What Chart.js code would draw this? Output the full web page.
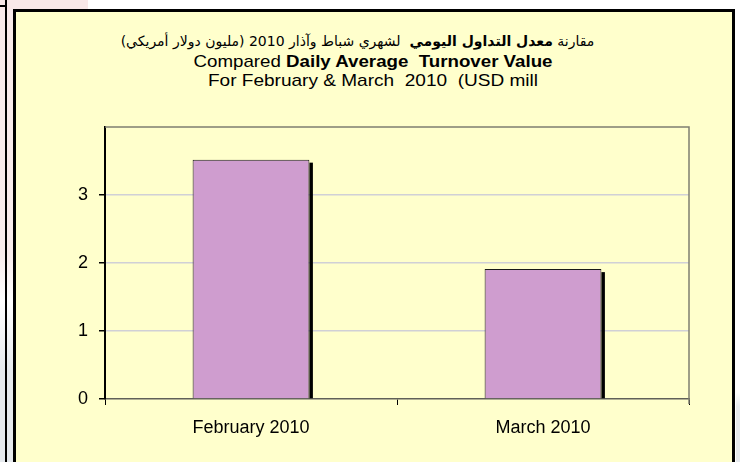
<!DOCTYPE html>
<html>
<head>
<meta charset="utf-8">
<script src="https://cdn.jsdelivr.net/npm/chart.js@4/dist/chart.umd.min.js"></script>
<style>
  html, body { margin: 0; padding: 0; }
  body { width: 740px; height: 462px; position: relative; overflow: hidden; background: #ffffff;
         font-family: "Liberation Sans", Arial, "DejaVu Sans", sans-serif; }
  #leftbg { position: absolute; left: 0; top: 0; width: 13px; height: 462px;
            background: linear-gradient(#f8eaea 0%, #f8ecec 55%, #ffffff 65%, #e6eaee 80%, #e6eaee 100%); }
  #rightbg { position: absolute; left: 736px; top: 0; width: 4px; height: 462px;
            background: linear-gradient(#ffffff 0%, #ffffff 85%, #e6eaee 88%, #e6eaee 100%); }
  #topbg { position: absolute; left: 0; top: 0; width: 88px; height: 9px; background: #f8e8e8; }
  #vline { position: absolute; left: 5px; top: 0; width: 2px; height: 462px; background: #000; }
  #hline { position: absolute; left: 0; top: 5px; width: 7px; height: 2px; background: #000; }
  #box { position: absolute; left: 13px; top: 9px; width: 716px; height: 460px;
         border: 3px solid #000; border-bottom: none; background: #ffffcc; }
  .t { position: absolute; text-align: center; color: #000; white-space: pre; line-height: 19px; }
  #t1 { left: 0; width: 715px; top: 32px; font-family: "DejaVu Sans", "Liberation Sans", sans-serif; font-size: 14px; }
  #t2 { left: 0; width: 746px; top: 52px; font-size: 17px; transform: scaleX(1.1); transform-origin: 50% 50%; }
  #t3 { left: 0; width: 746px; top: 71px; font-size: 17px; transform: scaleX(1.12); transform-origin: 50% 50%; }
  canvas { position: absolute; left: 0; top: 0; }
</style>
</head>
<body>
<div id="leftbg"></div>
<div id="rightbg"></div>
<div id="topbg"></div>
<div id="vline"></div>
<div id="hline"></div>
<div id="box"></div>
<div class="t" id="t1" dir="rtl">مقارنة <b>معدل التداول اليومي</b>  لشهري شباط وآذار 2010 (مليون دولار أمريكي)</div>
<div class="t" id="t2">Compared <b>Daily Average  Turnover Value</b></div>
<div class="t" id="t3">For February &amp; March  2010  (USD mill</div>
<canvas id="c" width="740" height="462"></canvas>
<script>
const categories = ["February 2010", "March 2010"];
const turnoverValues = [3.52, 1.91];
const yTicks = [0, 1, 2, 3, 4];

const plotFrame = {
  id: 'plotFrame',
  beforeDatasetsDraw(chart) {
    const a = chart.chartArea, ctx = chart.ctx;
    ctx.save();
    ctx.strokeStyle = '#7f7f70';
    ctx.lineWidth = 1.5;
    ctx.beginPath();
    ctx.moveTo(a.left, a.top);
    ctx.lineTo(a.right, a.top);
    ctx.lineTo(a.right, a.bottom + 5);
    ctx.stroke();
    // bar shadows (right side), placed from the library's computed bar geometry
    ctx.beginPath();
    ctx.rect(a.left, a.top, a.right - a.left, a.bottom - a.top);
    ctx.clip();
    ctx.fillStyle = '#000000';
    const meta = chart.getDatasetMeta(0);
    meta.data.forEach(el => {
      const p = el.getProps(['x', 'y', 'base', 'width'], true);
      const right = p.x + p.width / 2;
      ctx.fillRect(right, p.y + 3, 3.5, p.base - p.y - 3);
    });
    ctx.restore();
  }
};

new Chart(document.getElementById('c'), {
  type: 'bar',
  data: {
    labels: categories,
    datasets: [{
      data: turnoverValues,
      backgroundColor: '#cf9dcf',
      borderColor: '#1a1a1a',
      borderWidth: 1,
      borderSkipped: 'bottom',
      barPercentage: 0.4,
      categoryPercentage: 1.0
    }]
  },
  plugins: [plotFrame],
  options: {
    responsive: false,
    animation: false,
    events: [],
    layout: { padding: { top: 127, right: 51, left: 0, bottom: 0 } },
    plugins: { legend: { display: false }, title: { display: false }, tooltip: { enabled: false } },
    scales: {
      x: {
        offset: true,
        grid: { display: true, drawOnChartArea: false, tickLength: 6, tickColor: '#000', offset: true },
        border: { display: true, color: '#606058', width: 1.5 },
        ticks: { color: '#000', padding: 12, font: { family: '"Liberation Sans", Arial, sans-serif', size: 18 } },
        afterFit(s) { s.height = 63; }
      },
      y: {
        min: yTicks[0],
        max: yTicks[yTicks.length - 1],
        afterBuildTicks(s) { s.ticks = yTicks.map(v => ({ value: v })); },
        grid: {
          tickLength: 6,
          tickColor: ctx => (ctx.tick && ctx.tick.value === 4) ? 'rgba(0,0,0,0)' : '#000',
          color: ctx => (ctx.tick && (ctx.tick.value === 0 || ctx.tick.value === 4)) ? 'rgba(0,0,0,0)' : '#d0d0d6',
          lineWidth: 1.5
        },
        border: { display: true, color: '#000', width: 2 },
        ticks: {
          color: '#000', padding: 11,
          font: { family: '"Liberation Sans", Arial, sans-serif', size: 18 },
          callback: v => (v === 4 ? '' : String(v))
        },
        afterFit(s) { s.width = 105; }
      }
    }
  }
});
</script>
</body>
</html>
